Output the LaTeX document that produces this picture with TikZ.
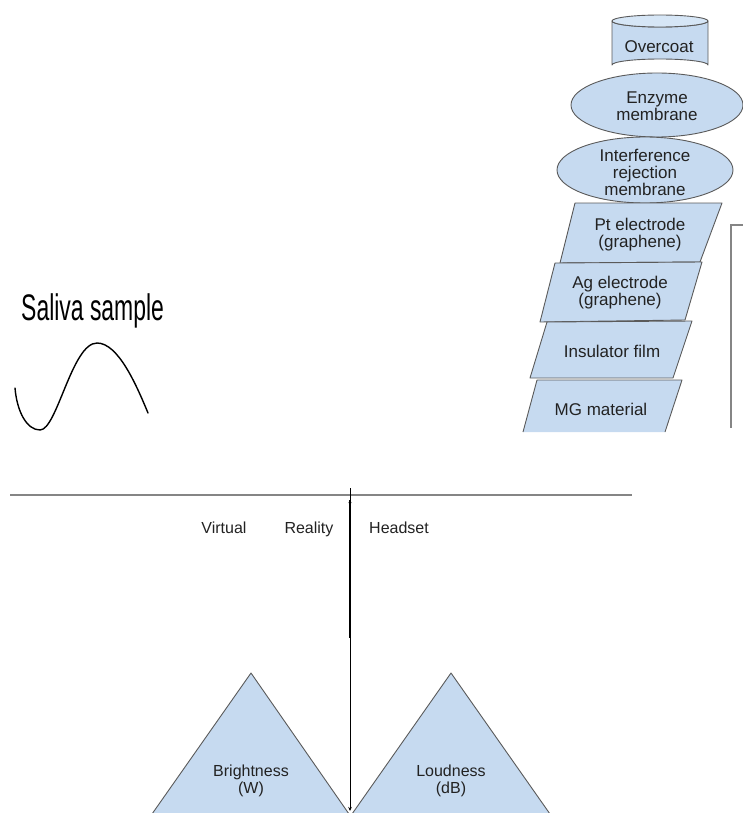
\documentclass[tikz,border=0pt]{standalone}
\usepackage{fontspec}
\setmainfont{Liberation Sans}
\usetikzlibrary{arrows.meta}
\definecolor{shapefill}{HTML}{C6DAF0}
\definecolor{shapetop}{HTML}{D6E6F6}
\definecolor{shapeline}{HTML}{5A5A5A}
\definecolor{txt}{HTML}{222222}
\definecolor{rule}{HTML}{858585}
\tikzset{
  layer/.style={fill=shapefill,draw=shapeline,line width=0.9pt,line join=round},
  layerfill/.style={fill=shapefill},
  layerline/.style={draw=shapeline,line width=0.9pt,line join=round},
  stacklabel/.style={text=txt,align=center,font=\fontsize{17}{17}\selectfont,inner sep=0pt},
  lowlabel/.style={text=txt,align=center,font=\fontsize{16}{17}\selectfont,inner sep=0pt},
  vrlabel/.style={text=txt,font=\fontsize{16}{17}\selectfont,inner sep=0pt,anchor=base},
  greyrule/.style={draw=rule,line width=1.3pt},
  wave/.style={draw=black,line width=1.4pt,line cap=round},
  axisline/.style={draw=black,line width=1pt}
}
\begin{document}
\begin{tikzpicture}[x=1pt,y=-1pt]
\useasboundingbox (0,0) rectangle (743,813);
\clip (0,0) rectangle (743,813);

% ---- Overcoat cylinder ----
\path[layer] (612,21) -- (612,65) arc (180:360:48 and 6) -- (708,21) arc (0:180:48 and 6) -- cycle;
\path[layer,fill=shapetop] (660,21) ellipse (48 and 6);
\node[stacklabel] (overcoat) at (659,47) {Overcoat};

% ---- membranes ----
\path[layer] (657,105) ellipse (86 and 32);
\node[stacklabel] (enzyme) at (657,106) {Enzyme\\membrane};
\path[layer] (645,170) ellipse (88 and 33);
\node[stacklabel] (interf) at (645,172) {Interference\\rejection\\membrane};

% ---- slanted layers ----
\path[layer] (575,203) -- (722,203) -- (700,262) -- (560,263) -- cycle;
\node[stacklabel] (pt) at (640,235) {Pt electrode\\(graphene)};
\path[layer] (555,263) -- (702,262) -- (685,320) -- (540,322) -- cycle;
\node[stacklabel] (ag) at (620,293) {Ag electrode\\(graphene)};
\path[layer] (547,322) -- (692,321) -- (673,378) -- (530,378) -- cycle;
\node[stacklabel] (ins) at (612,351) {Insulator film};
\path[layerfill] (537,380) -- (682,380) -- (665,432) -- (523,432) -- cycle;
\path[layerline] (523,432) -- (537,380) -- (682,380) -- (665,432);
\node[stacklabel] (mg) at (601,409) {MG material};

% ---- bracket ----
\coordinate (brtop) at (743,225);
\coordinate (brcorner) at (731,225);
\coordinate (brbot) at (731,428);
\draw[greyrule,line width=1.1pt] (brtop) -- (brcorner) -- (brbot);

% ---- saliva sample ----
\node[inner sep=0pt,anchor=base west,text=black] (saliva) at (21,320)
  {\scalebox{0.62}[1]{\fontsize{37}{37}\selectfont Saliva sample}};
\coordinate (w0) at (15,388);
\coordinate (w1) at (40,430);
\coordinate (w2) at (97,343);
\coordinate (w3) at (148,413);
\draw[wave] (w0) .. controls (17,412) and (27,430) .. (w1)
  .. controls (57,430) and (72,343) .. (w2)
  .. controls (118,343) and (136,384) .. (w3);

% ---- horizontal rule ----
\coordinate (hl) at (10,495);
\coordinate (hr) at (632,495);
\draw[greyrule] (hl) -- (hr);

% ---- vertical axis ----
\coordinate (vtop) at (350,488);
\coordinate (vmid) at (350,500);
\coordinate (vdark) at (350,638);
\coordinate (vbot) at (350,811);
\draw[axisline] (vtop) -- (vmid);
\draw[axisline,{Stealth[length=3pt,width=3pt]}-{Stealth[length=4pt,width=3.5pt]}] (vmid) -- (vbot);
\draw[axisline,line width=1.3pt] (vmid) -- (vdark);

% ---- labels ----
\node[vrlabel] (virtual) at (224,533) {Virtual};
\node[vrlabel] (reality) at (309,533) {Reality};
\node[vrlabel] (headset) at (399,533) {Headset};

% ---- triangles ----
\path[layerfill] (251,673) -- (349,814) -- (152,814) -- cycle;
\path[layerline] (152,814) -- (251,673) -- (349,814);
\node[lowlabel] (bright) at (251,781) {Brightness\\(W)};
\path[layerfill] (451,673) -- (550,814) -- (352,814) -- cycle;
\path[layerline] (352,814) -- (451,673) -- (550,814);
\node[lowlabel] (loud) at (451,781) {Loudness\\(dB)};
\end{tikzpicture}
\end{document}
